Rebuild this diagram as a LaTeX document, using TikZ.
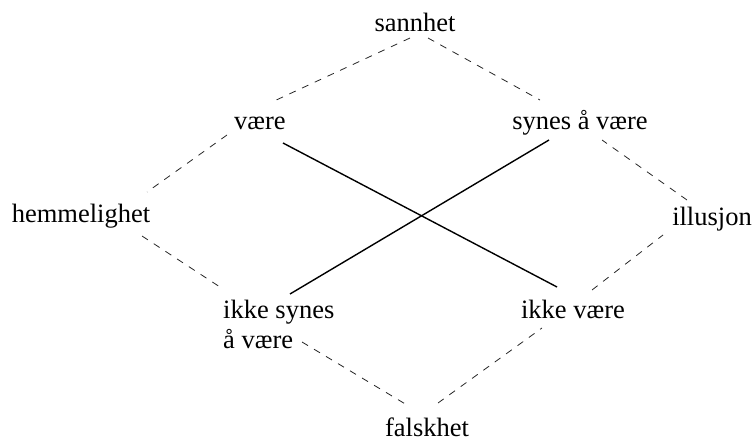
\documentclass[tikz,border=0pt]{standalone}
\usepackage{fontspec}
\setmainfont{Liberation Serif}
\begin{document}
\begin{tikzpicture}[x=1pt,y=-1pt,
  lbl/.style={inner sep=0pt,anchor=base,font=\fontsize{26.5}{30}\selectfont},
  dsh/.style={draw=black!85,line width=0.8pt,dash pattern=on 7pt off 7pt},
  sld/.style={draw=black,line width=1.4pt}]
\useasboundingbox (0,0) rectangle (755,441);
\node[lbl] (sannhet) at (415,32) {sannhet};
\node[lbl] (vaere) at (260,130) {være};
\node[lbl] (synes) at (580,130) {synes å være};
\node[lbl] (hemmelighet) at (81,222) {hemmelighet};
\node[lbl] (illusjon) at (712,225) {illusjon};
\node[lbl,anchor=base west,align=left] (ikkesynes) at (223,348) {ikke synes\\å være};
\node[lbl] (ikkevaere) at (573,318) {ikke være};
\node[lbl] (falskhet) at (427,436) {falskhet};
% dashed
\draw[dsh] ([shift={(-5,6)}]sannhet.base) -- ([shift={(12,-28)}]vaere.base);
\draw[dsh] ([shift={(13,6)}]sannhet.base) -- ([shift={(-40,-30)}]synes.base);
\draw[dsh] ([shift={(-33,5)}]vaere.base) -- ([shift={(66,-30)}]hemmelighet.base);
\draw[dsh] ([shift={(61,14)}]hemmelighet.base) -- ([shift={(-3,-61)}]ikkesynes.base west);
\draw[dsh] ([shift={(79,-6)}]ikkesynes.base west) -- ([shift={(-20,-31)}]falskhet.base);
\draw[dsh] ([shift={(11,-33)}]falskhet.base) -- ([shift={(-31,10)}]ikkevaere.base);
\draw[dsh] ([shift={(19,-28)}]ikkevaere.base) -- ([shift={(-49,10)}]illusjon.base);
\draw[dsh] ([shift={(-25,-25)}]illusjon.base) -- ([shift={(22,10)}]synes.base);
% solid
\draw[sld] ([shift={(23,13)}]vaere.base) -- ([shift={(-16,-31)}]ikkevaere.base);
\draw[sld] ([shift={(-31,10)}]synes.base) -- ([shift={(67,-54)}]ikkesynes.base west);
\end{tikzpicture}
\end{document}
